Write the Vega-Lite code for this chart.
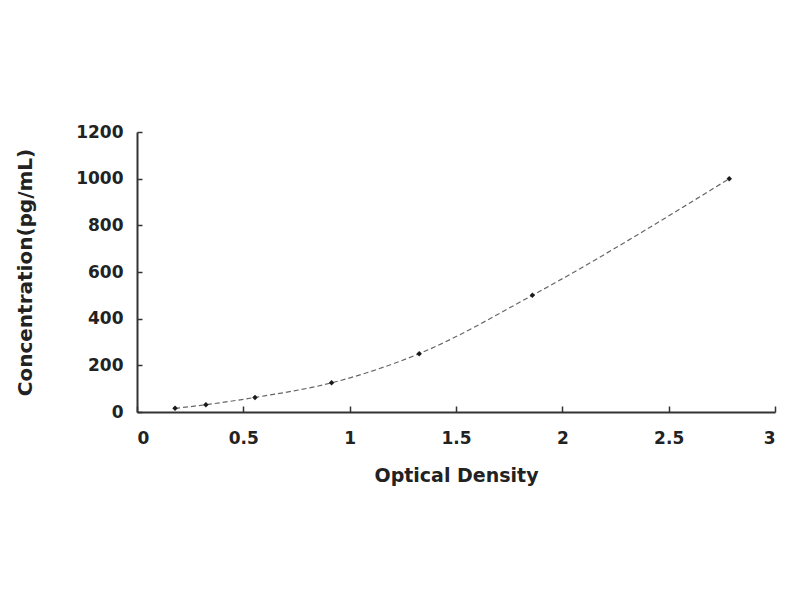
{
  "$schema": "https://vega.github.io/schema/vega-lite/v6.json",
  "autosize": "none",
  "width": 638,
  "height": 280,
  "padding": {"left": 137, "top": 132, "right": 25, "bottom": 188},
  "background": "white",
  "data": {
    "values": [
      {"od": 0.179, "conc": 15.6},
      {"od": 0.324, "conc": 31.25},
      {"od": 0.555, "conc": 62.5},
      {"od": 0.915, "conc": 125},
      {"od": 1.327, "conc": 250},
      {"od": 1.859, "conc": 500},
      {"od": 2.785, "conc": 1000}
    ]
  },
  "encoding": {
    "x": {
      "field": "od",
      "type": "quantitative",
      "scale": {"domain": [0, 3], "nice": false},
      "axis": {
        "title": "Optical Density",
        "values": [0, 0.5, 1, 1.5, 2, 2.5, 3],
        "format": "~g",
        "grid": false,
        "tickSize": -6,
        "labelPadding": 24,
        "titlePadding": 20
      }
    },
    "y": {
      "field": "conc",
      "type": "quantitative",
      "scale": {"domain": [0, 1200], "nice": false},
      "axis": {
        "title": "Concentration(pg/mL)",
        "values": [0, 200, 400, 600, 800, 1000, 1200],
        "format": "d",
        "grid": false,
        "tickSize": -5,
        "labelPadding": 19,
        "titleFontSize": 20,
        "titlePadding": 40
      }
    }
  },
  "layer": [
    {
      "mark": {"type": "line", "interpolate": "monotone", "color": "#666666", "strokeWidth": 1.2, "strokeDash": [5, 3]}
    },
    {
      "mark": {"type": "point", "shape": "diamond", "filled": true, "size": 30, "color": "#1a1a1a", "opacity": 1}
    }
  ],
  "config": {
    "font": "DejaVu Sans",
    "view": {"stroke": null},
    "axis": {
      "domainColor": "#333333",
      "domainWidth": 2,
      "tickColor": "#333333",
      "tickWidth": 1.5,
      "labelFont": "DejaVu Sans",
      "labelFontSize": 17,
      "labelFontWeight": "bold",
      "labelColor": "#222222",
      "titleFont": "DejaVu Sans",
      "titleFontSize": 19,
      "titleFontWeight": "bold",
      "titleColor": "#222222"
    }
  }
}
